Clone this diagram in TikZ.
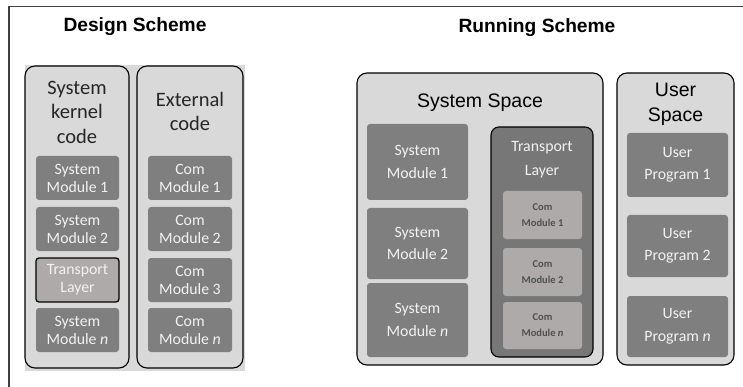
\documentclass[tikz,border=0pt]{standalone}
\usepackage{fontspec}
\setmainfont{Carlito}
\newfontfamily\arialf{Liberation Sans}
\begin{document}
\begin{tikzpicture}[x=1pt,y=-1pt,
  outerbox/.style={draw=black,line width=1.1pt,fill=outfill,rounded corners=10pt},
  modbox/.style={fill=modfill,rounded corners=3pt,text=modtext,align=center,
     font=\fontsize{15.8}{18}\selectfont,inner sep=0pt},
  rmodbox/.style={modbox,font=\fontsize{15.8}{22.5}\selectfont},
  tlbox/.style={draw=black,line width=1.3pt,fill=lightmod,rounded corners=3pt,text=modtext,align=center,
     font=\fontsize{15.8}{18}\selectfont,inner sep=0pt},
  combox/.style={fill=lightmod,rounded corners=3pt,text=comtext,align=center,
     font=\bfseries\fontsize{10.5}{16}\selectfont,inner sep=0pt},
  bigtitle/.style={font=\arialf\bfseries\fontsize{19.2}{22}\selectfont},
  spacetitle/.style={font=\arialf\fontsize{19.5}{25}\selectfont,align=center},
  coltitle/.style={font=\fontsize{20.5}{24.5}\selectfont,align=center,text=black!85}
]
\definecolor{outfill}{RGB}{217,217,217}
\definecolor{modfill}{RGB}{127,127,127}
\definecolor{modtext}{RGB}{242,242,242}
\definecolor{lightmod}{RGB}{174,170,170}
\definecolor{comtext}{RGB}{80,80,80}
\definecolor{framec}{RGB}{64,64,64}
\useasboundingbox (0,0) rectangle (743,387);
% frame lines
\coordinate (fTL) at (9,6.5);
\coordinate (fTR) at (743,6.5);
\coordinate (fBL) at (9,387);
\draw[framec,line width=1.6pt] (fTR) -- (fTL) -- (fBL);

% titles
\node[bigtitle] (dtitle) at (135,27) {Design Scheme};
\node[bigtitle] (rtitle) at (537,28) {Running Scheme};

% Design scheme
\fill[outfill] (25,65) rectangle (245,371);
\node[outerbox,minimum width=104pt,minimum height=302pt] (kern) at (77,217) {};
\node[outerbox,minimum width=106pt,minimum height=302pt] (ext) at (190,217) {};
\node[coltitle] (kernt) at (77,112) {System\\kernel\\code};
\node[coltitle] (extt) at (190,111.5) {External\\code};

\node[modbox,minimum width=83pt,minimum height=44pt] (dsm1) at (77.5,178) {System\\Module 1};
\node[modbox,minimum width=83pt,minimum height=44pt] (dsm2) at (77.5,229) {System\\Module 2};
\node[tlbox,minimum width=83pt,minimum height=44pt] (dtl) at (77.5,280) {Transport\\Layer};
\node[modbox,minimum width=83pt,minimum height=44pt] (dsmn) at (77.5,330) {System\\Module \textit{n}};

\node[modbox,minimum width=84pt,minimum height=44pt] (dcm1) at (190,178) {Com\\Module 1};
\node[modbox,minimum width=84pt,minimum height=44pt] (dcm2) at (190,229) {Com\\Module 2};
\node[modbox,minimum width=84pt,minimum height=44pt] (dcm3) at (190,280) {Com\\Module 3};
\node[modbox,minimum width=84pt,minimum height=44pt] (dcmn) at (190,330) {Com\\Module \textit{n}};

% Running scheme
\node[outerbox,minimum width=246pt,minimum height=292pt] (sys) at (480,219) {};
\node[spacetitle] (syst) at (480,103) {System Space};
\node[rmodbox,minimum width=101pt,minimum height=76pt] (rsm1) at (417.5,162) {System\\Module 1};
\node[rmodbox,minimum width=101pt,minimum height=71pt] (rsm2) at (417.5,243.5) {System\\Module 2};
\node[rmodbox,minimum width=101pt,minimum height=74pt] (rsmn) at (417.5,320) {System\\Module \textit{n}};

\node[draw=black,line width=1.1pt,fill=modfill!94!black,rounded corners=8pt,minimum width=102pt,minimum height=230pt] (rtl) at (542,242) {};
\node[text=modtext,align=center,font=\fontsize{15.8}{24}\selectfont] (rtlt) at (542,160) {Transport\\Layer};
\node[combox,minimum width=79pt,minimum height=48pt] (rcm1) at (542.5,215) {Com\\Module 1};
\node[combox,minimum width=79pt,minimum height=48pt] (rcm2) at (542.5,272) {Com\\Module 2};
\node[combox,minimum width=79pt,minimum height=47pt] (rcmn) at (542.5,325.5) {Com\\Module \textit{n}};

\node[outerbox,minimum width=117pt,minimum height=292pt] (usr) at (675.5,219) {};
\node[spacetitle] (usrt) at (675.5,104.5) {User\\Space};
\node[rmodbox,minimum width=101pt,minimum height=64pt] (up1) at (677.5,165) {User\\Program 1};
\node[rmodbox,minimum width=101pt,minimum height=62pt] (up2) at (677.5,246) {User\\Program 2};
\node[rmodbox,minimum width=101pt,minimum height=61pt] (upn) at (677.5,326.5) {User\\Program \textit{n}};
\end{tikzpicture}
\end{document}
